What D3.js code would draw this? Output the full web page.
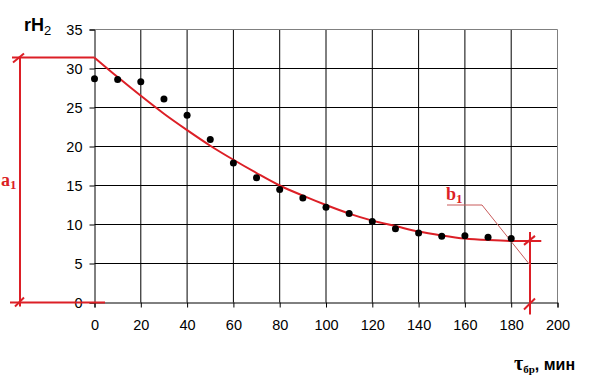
<!DOCTYPE html>
<html>
<head>
<meta charset="utf-8">
<script src="https://cdn.jsdelivr.net/npm/d3@7"></script>
<style>
body { margin: 0; background: #fff; }
</style>
</head>
<body>
<svg id="chart"></svg>
<script>
// measured points, rH2 vs time (min)
var times = [0, 10, 20, 30, 40, 50, 60, 70, 80, 90, 100, 110, 120, 130, 140, 150, 160, 170, 180];
var rh2 = [28.7, 28.6, 28.3, 26.1, 24.0, 20.9, 17.9, 16.0, 14.5, 13.4, 12.2, 11.4, 10.4, 9.45, 8.9, 8.5, 8.55, 8.35, 8.2];

// red trend curve
var curveT = [0, 10, 20, 30, 40, 50, 60, 70, 80, 90, 100, 110, 120, 130, 140, 150, 160, 170, 180, 193];
var curveV = [31.4, 28.9, 26.5, 24.2, 22.1, 20.1, 18.3, 16.6, 15.0, 13.7, 12.5, 11.4, 10.5, 9.8, 9.1, 8.6, 8.2, 8.0, 7.9, 7.9];

var xTicks = [0, 20, 40, 60, 80, 100, 120, 140, 160, 180, 200];
var yTicks = [0, 5, 10, 15, 20, 25, 30, 35];

var width = 591;
var height = 389;
var red = "#dc1f26";
var sans = "Liberation Sans, Arial, sans-serif";
var serif = "Liberation Serif, Times New Roman, serif";

var svg = d3.select("#chart")
            .attr("width", width)
            .attr("height", height)
            .attr("font-family", sans);

var xScale = d3.scaleLinear()
               .domain([0, 200])
               .range([94.5, 557.5]);

var yScale = d3.scaleLinear()
               .domain([0, 35])
               .range([302.5, 29.5]);

// grid
svg.selectAll(".vgrid")
   .data(xTicks.slice(1, -1))
   .enter()
   .append("line")
   .attr("x1", function(d){ return xScale(d); })
   .attr("x2", function(d){ return xScale(d); })
   .attr("y1", yScale(35))
   .attr("y2", yScale(0))
   .attr("stroke", "#000");

svg.selectAll(".hgrid")
   .data(yTicks.slice(1, -1))
   .enter()
   .append("line")
   .attr("x1", xScale(0))
   .attr("x2", xScale(200))
   .attr("y1", function(d){ return yScale(d); })
   .attr("y2", function(d){ return yScale(d); })
   .attr("stroke", "#000");

// outer frame (top/right grey)
svg.append("path")
   .attr("d", "M" + xScale(0) + "," + yScale(35) + "H" + xScale(200) + "V" + yScale(0))
   .attr("fill", "none")
   .attr("stroke", "#808080");

// axes
var xAxis = d3.axisBottom(xScale).tickValues(xTicks).tickSize(5).tickPadding(12);
var yAxis = d3.axisLeft(yScale).tickValues(yTicks).tickSize(5).tickPadding(7);

var gx = svg.append("g")
   .attr("transform", "translate(0," + yScale(0) + ")")
   .call(xAxis);
var gy = svg.append("g")
   .attr("transform", "translate(" + xScale(0) + ",0)")
   .call(yAxis);

[gx, gy].forEach(function(g){
  g.select(".domain").attr("stroke", "#000");
  g.selectAll(".tick line").attr("stroke", "#000");
  g.selectAll(".tick text")
   .attr("font-size", 14.5)
   .attr("font-family", sans)
   .attr("fill", "#000");
});

// red annotation (a1, b1)
var ann = svg.append("g").attr("stroke", red).attr("stroke-width", 2).attr("fill", "none");
var topY = yScale(curveV[0]);
var endY = yScale(curveV[curveV.length - 1]);
ann.append("line").attr("x1", 12).attr("x2", xScale(0)).attr("y1", topY).attr("y2", topY);
ann.append("line").attr("x1", 20).attr("x2", 20).attr("y1", topY).attr("y2", yScale(0) + 4);
ann.append("line").attr("x1", 10).attr("x2", 105).attr("y1", yScale(0)).attr("y2", yScale(0));
ann.append("line").attr("x1", 13).attr("x2", 24).attr("y1", topY + 5).attr("y2", topY - 4);
ann.append("line").attr("x1", 15).attr("x2", 24).attr("y1", yScale(0) + 4).attr("y2", yScale(0) - 5);

var bx = 530;
ann.append("line").attr("x1", bx).attr("x2", bx).attr("y1", endY - 9).attr("y2", yScale(0) + 12);
ann.append("line").attr("x1", bx - 6).attr("x2", bx + 5).attr("y1", endY + 4).attr("y2", endY - 5);
ann.append("line").attr("x1", bx - 6).attr("x2", bx + 5).attr("y1", yScale(0) + 7).attr("y2", yScale(0) - 4);

// b1 leader
svg.append("polyline")
   .attr("points", "447,205 482,205 " + bx + ",265")
   .attr("fill", "none")
   .attr("stroke", "#c85a5a")
   .attr("stroke-width", 1);

// trend curve
var line = d3.line()
             .x(function(d){ return xScale(d[0]); })
             .y(function(d){ return yScale(d[1]); })
             .curve(d3.curveMonotoneX);

svg.append("path")
   .datum(d3.zip(curveT, curveV))
   .attr("d", line)
   .attr("fill", "none")
   .attr("stroke", red)
   .attr("stroke-width", 2);

// points
svg.selectAll(".pt")
   .data(d3.zip(times, rh2))
   .enter()
   .append("circle")
   .attr("cx", function(d){ return xScale(d[0]); })
   .attr("cy", function(d){ return yScale(d[1]); })
   .attr("r", 3.5)
   .attr("fill", "#000");

// labels
var a1 = svg.append("text")
   .attr("x", 1).attr("y", 186)
   .attr("fill", red)
   .attr("font-family", serif)
   .attr("font-weight", "bold")
   .attr("font-size", 18);
a1.append("tspan").text("a");
a1.append("tspan").attr("font-size", 13).attr("dy", 3).text("1");

var b1 = svg.append("text")
   .attr("x", 446).attr("y", 200)
   .attr("fill", red)
   .attr("font-family", serif)
   .attr("font-weight", "bold")
   .attr("font-size", 18);
b1.append("tspan").text("b");
b1.append("tspan").attr("font-size", 13).attr("dy", 3).text("1");

var yl = svg.append("text")
   .attr("x", 24).attr("y", 31)
   .attr("font-weight", "bold")
   .attr("font-size", 18);
yl.append("tspan").text("rH");
yl.append("tspan").attr("font-size", 13).attr("font-weight", "normal").attr("dy", 4).text("2");

var xl = svg.append("text")
   .attr("x", 514).attr("y", 370)
   .attr("font-weight", "bold")
   .attr("font-size", 16);
xl.append("tspan").attr("font-family", serif).attr("font-size", 20).text("τ");
xl.append("tspan").attr("font-family", serif).attr("font-size", 11).attr("dy", 3).text("бр");
xl.append("tspan").attr("dy", -3).text(", мин");
</script>
</body>
</html>
